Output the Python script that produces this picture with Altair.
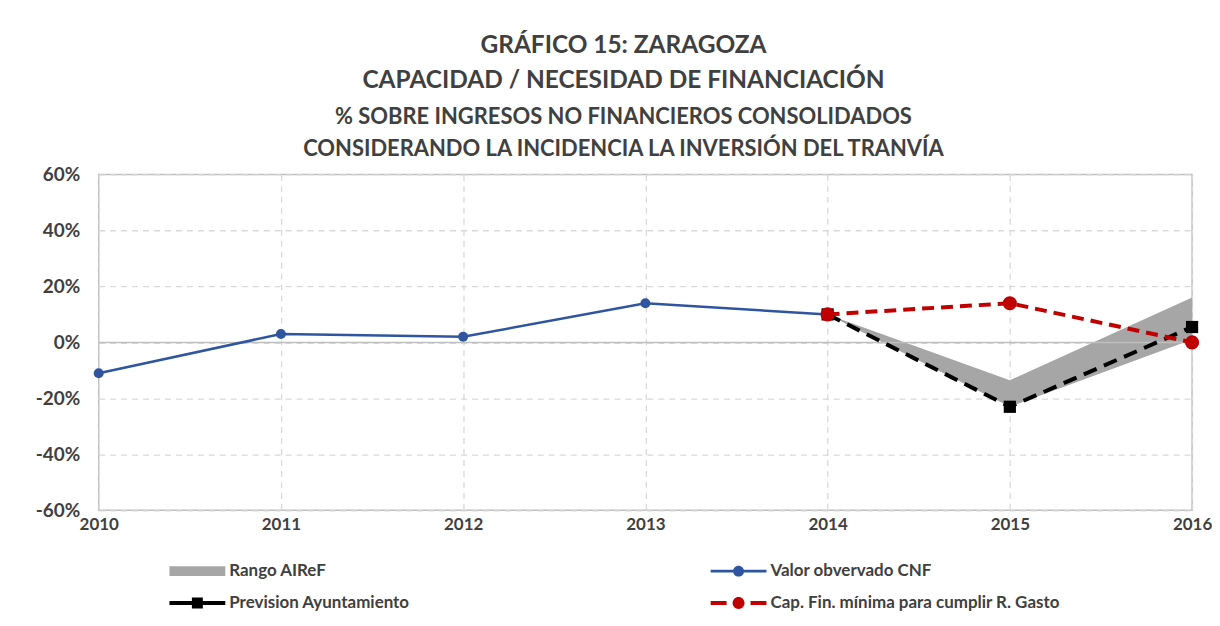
import altair as alt
import pandas as pd

# ---- data ----
years_obs = [2010, 2011, 2012, 2013, 2014]
obs_values = [-0.11, 0.03, 0.02, 0.14, 0.10]

years_proj = [2014, 2015, 2016]
prev_values = [0.10, -0.23, 0.055]
cap_values = [0.10, 0.14, 0.00]
range_low = [0.10, -0.23, 0.01]
range_high = [0.10, -0.135, 0.16]

x_ticks = [2010, 2011, 2012, 2013, 2014, 2015, 2016]
y_ticks = [-0.6, -0.4, -0.2, 0.0, 0.2, 0.4, 0.6]
zero_line = [0.0]

series_names = [
    "Rango AIReF",
    "Valor obvervado CNF",
    "Prevision Ayuntamiento",
    "Cap. Fin. mínima para cumplir R. Gasto",
]
series_colors = ["#a6a6a6", "#2f55a0", "#000000", "#c00000"]

# legend symbols (custom shapes: line + marker)
legend_shapes = [
    "M-1,-0.5H4.6V0.5H-1Z",
    "M-1,-0.13H1.4V0.13H-1Z M2.2,-0.13H4.6V0.13H2.2Z M1.25,0A0.55,0.55,0,1,1,2.35,0A0.55,0.55,0,1,1,1.25,0Z",
    "M-1,-0.2H1.3V0.2H-1Z M2.3,-0.2H4.6V0.2H2.3Z M1.25,-0.55H2.35V0.55H1.25Z",
    "M-1,-0.2H0.6V0.2H-1Z M3.0,-0.2H4.6V0.2H3.0Z M1.2,0A0.6,0.6,0,1,1,2.4,0A0.6,0.6,0,1,1,1.2,0Z",
]

obs_df = pd.DataFrame({"year": years_obs, "value": obs_values})
proj_df = pd.DataFrame({"year": years_proj, "prev": prev_values, "cap": cap_values,
                        "lo": range_low, "hi": range_high})
zero_df = pd.DataFrame({"y": zero_line})
legend_df = pd.DataFrame({"series": series_names})

FONT = "Lato"
TXT = "#404040"

x_scale = alt.Scale(domain=[2010, 2016], nice=False, zero=False)
y_scale = alt.Scale(domain=[-0.6, 0.6], nice=False)

x_axis = alt.Axis(values=x_ticks, format="d", title=None, grid=True, gridDash=[6, 5],
                  gridColor="#d9d9d9", gridWidth=1.3, domain=False, ticks=False,
                  labelFont=FONT, labelFontSize=17, labelFontWeight="bold",
                  labelColor=TXT, labelPadding=6, labelFlush=False)
y_axis = alt.Axis(values=y_ticks, format=".0%", title=None, grid=True, gridDash=[6, 5],
                  gridColor="#d9d9d9", gridWidth=1.3, domain=False, ticks=False,
                  labelFont=FONT, labelFontSize=19, labelFontWeight="bold",
                  labelColor=TXT, labelPadding=19, minExtent=60, maxExtent=60,
                  labelExpr="replace(datum.label, '\u2212', '-')")


def X(field):
    return alt.X(field, scale=x_scale, axis=x_axis)


def Y(field):
    return alt.Y(field, scale=y_scale, axis=y_axis)


area = alt.Chart(proj_df).mark_area(color="#a6a6a6", opacity=1).encode(
    x=X("year:Q"), y=Y("lo:Q"), y2="hi:Q",
)

zero = alt.Chart(zero_df).mark_rule(color="#bfbfbf", strokeWidth=1.5).encode(
    y=Y("y:Q")
)

obs_line = alt.Chart(obs_df).mark_line(color="#2f55a0", strokeWidth=2.5).encode(
    x=X("year:Q"), y=Y("value:Q"),
)
obs_pts = alt.Chart(obs_df).mark_point(filled=True, color="#2f55a0", size=100, opacity=1,
                                       shape="circle").encode(
    x=X("year:Q"), y=Y("value:Q"),
)

prev_line = alt.Chart(proj_df).mark_line(color="#000000", strokeWidth=4,
                                         strokeDash=[14, 8]).encode(
    x=X("year:Q"), y=Y("prev:Q"),
)
prev_pts = alt.Chart(proj_df).mark_point(filled=True, color="#000000", size=150, opacity=1,
                                         shape="square").encode(
    x=X("year:Q"), y=Y("prev:Q"),
)

cap_line = alt.Chart(proj_df).mark_line(color="#c00000", strokeWidth=4,
                                        strokeDash=[12, 7]).encode(
    x=X("year:Q"), y=Y("cap:Q"),
)
cap_pts = alt.Chart(proj_df).mark_point(filled=True, color="#c00000", size=200, opacity=1,
                                        shape="circle").encode(
    x=X("year:Q"), y=Y("cap:Q"),
)

legend = alt.Legend(
    title=None, orient="none", legendX=71, legendY=388, columns=2, direction="horizontal",
    padding=0, symbolSize=400, symbolStrokeWidth=0, symbolOpacity=1, labelOffset=40,
    columnPadding=301, rowPadding=14, labelFont=FONT, labelFontSize=17,
    labelFontWeight="bold", labelColor=TXT, labelLimit=500,
)
legend_layer = alt.Chart(legend_df).mark_point(filled=True, opacity=1).encode(
    color=alt.Color("series:N", scale=alt.Scale(domain=series_names, range=series_colors),
                    legend=legend),
    shape=alt.Shape("series:N", scale=alt.Scale(domain=series_names, range=legend_shapes),
                    legend=legend),
).transform_filter("false")

chart = alt.layer(
    area, zero, obs_line, obs_pts, prev_line, prev_pts, cap_line, cap_pts, legend_layer
).properties(
    width=1097,
    height=337,
    padding={"left": 27, "top": 24, "right": 0, "bottom": 5},
    title=alt.Title(
        text=["GRÁFICO 15: ZARAGOZA", "CAPACIDAD / NECESIDAD DE FINANCIACIÓN"],
        subtitle=["% SOBRE INGRESOS NO FINANCIEROS CONSOLIDADOS",
                  "CONSIDERANDO LA INCIDENCIA LA INVERSIÓN DEL TRANVÍA"],
        anchor="middle", frame="bounds", font=FONT, fontSize=24.5, fontWeight="bold",
        color=TXT, lineHeight=35, subtitleFont=FONT, subtitleFontSize=22,
        subtitleFontWeight="bold", subtitleColor=TXT, subtitleLineHeight=32,
        subtitlePadding=13, offset=5,
    ),
).configure_view(stroke="#bfbfbf", strokeWidth=1.5)

chart.save("out.html", embed_options={"renderer": "svg", "actions": False})
